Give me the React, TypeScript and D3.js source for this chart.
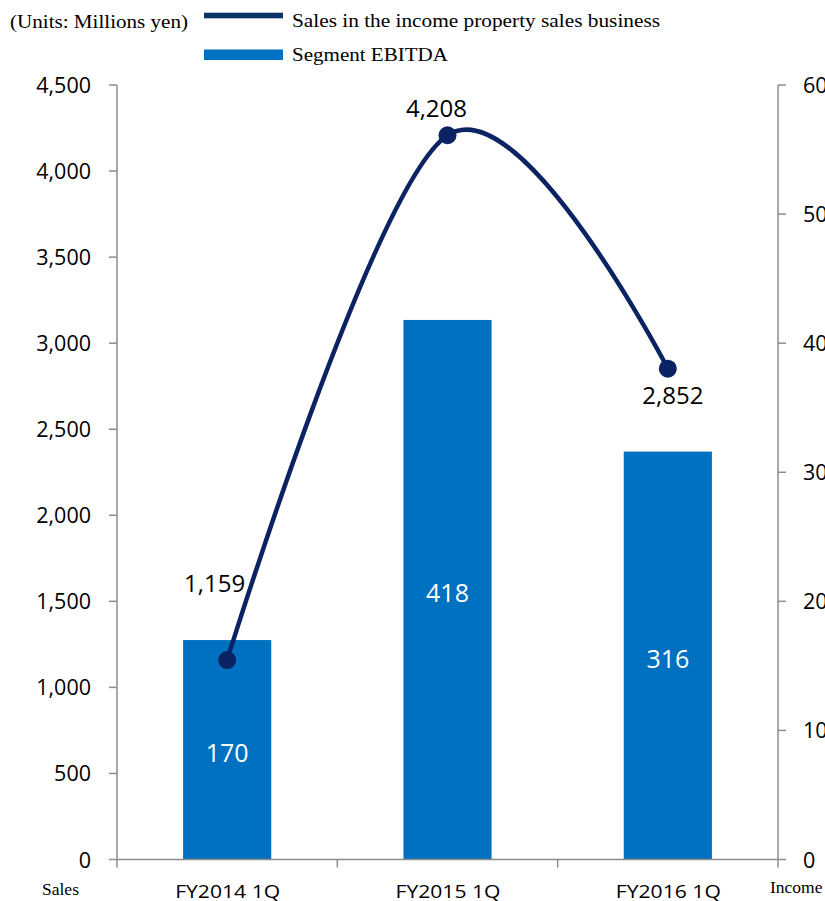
import React from "react";
import * as d3 from "d3";

const categories = ["FY2014 1Q", "FY2015 1Q", "FY2016 1Q"];
const salesValues = [1159, 4208, 2852];
const ebitdaValues = [170, 418, 316];
const leftTicks = [0, 500, 1000, 1500, 2000, 2500, 3000, 3500, 4000, 4500];
const rightTicks = [0, 100, 200, 300, 400, 500, 600];
const legendLabels = ["Sales in the income property sales business", "Segment EBITDA"];

const W = 825;
const H = 901;
const left = 117;
const right = 778;
const top = 85;
const bottom = 859.5;

const LINE_COLOR = "#0B2362";
const LEGEND_LINE = "#0B3264";
const BAR_COLOR = "#0070C0";
const AXIS_COLOR = "#8C8C8C";
const SANS = "'Open Sans', 'Noto Sans', sans-serif";
const SERIF = "'Liberation Serif', 'Times New Roman', serif";

export default function App() {
  const x = d3.scaleBand<string>().domain(categories).range([left, right]).paddingInner(0).paddingOuter(0);
  const yL = d3.scaleLinear().domain([0, 4500]).range([bottom, top]);
  const yR = d3.scaleLinear().domain([0, 600]).range([bottom, top]);
  const fmt = d3.format(",");
  const bw = x.bandwidth() * 0.4;
  const cx = (c: string) => (x(c) as number) + x.bandwidth() / 2;

  const pts: [number, number][] = categories.map((c, i) => [cx(c), yL(salesValues[i])]);
  const line = d3.line().curve(d3.curveCardinal.tension(0))(pts) || "";

  const salesLabelOffsets = [
    { dx: -12.5, dy: -68 },
    { dx: -11, dy: -18 },
    { dx: 5, dy: 35 },
  ];

  const boundaries = categories.map((c) => x(c) as number).concat([right]);

  return (
    <svg
      width={W}
      height={H}
      style={{ position: "absolute", left: 0, top: 0, background: "#fff", overflow: "hidden" }}
    >
      {/* legend */}
      <text x={10} y={27.5} fontFamily={SERIF} fontSize={19.5} fill="#000" textLength={178} lengthAdjust="spacingAndGlyphs">
        (Units: Millions yen)
      </text>
      <rect x={204} y={12.7} width={79} height={5.6} fill={LEGEND_LINE} />
      <text x={292} y={27} fontFamily={SERIF} fontSize={19.5} fill="#000" textLength={368} lengthAdjust="spacingAndGlyphs">
        {legendLabels[0]}
      </text>
      <rect x={204} y={49.5} width={79} height={10.5} fill={BAR_COLOR} />
      <text x={292} y={61} fontFamily={SERIF} fontSize={19.5} fill="#000" textLength={156} lengthAdjust="spacingAndGlyphs">
        {legendLabels[1]}
      </text>

      {/* bars */}
      {categories.map((c, i) => (
        <rect
          key={c}
          x={cx(c) - bw / 2}
          y={yR(ebitdaValues[i])}
          width={bw}
          height={bottom - yR(ebitdaValues[i])}
          fill={BAR_COLOR}
        />
      ))}
      {categories.map((c, i) => (
        <text
          key={"bl" + c}
          x={cx(c)}
          y={(yR(ebitdaValues[i]) + bottom) / 2 + 12}
          textAnchor="middle"
          fontFamily={SANS}
          fontSize={25}
          fill="#fff"
        >
          {fmt(ebitdaValues[i])}
        </text>
      ))}

      {/* left axis */}
      <line x1={left} x2={left} y1={top} y2={bottom} stroke={AXIS_COLOR} strokeWidth={1.5} />
      {leftTicks.map((t) => (
        <g key={"l" + t}>
          <line x1={left - 8} x2={left} y1={yL(t)} y2={yL(t)} stroke={AXIS_COLOR} strokeWidth={1.5} />
          <text x={91} y={yL(t) + 8} textAnchor="end" fontFamily={SANS} fontSize={21.5} fill="#000">
            {fmt(t)}
          </text>
        </g>
      ))}

      {/* right axis */}
      <line x1={right} x2={right} y1={top} y2={bottom} stroke={AXIS_COLOR} strokeWidth={1.5} />
      {rightTicks.map((t) => (
        <g key={"r" + t}>
          <line x1={right} x2={right + 8} y1={yR(t)} y2={yR(t)} stroke={AXIS_COLOR} strokeWidth={1.5} />
          <text x={803} y={yR(t) + 8} textAnchor="start" fontFamily={SANS} fontSize={21.5} fill="#000">
            {fmt(t)}
          </text>
        </g>
      ))}

      {/* x axis */}
      <line x1={left} x2={right} y1={bottom} y2={bottom} stroke={AXIS_COLOR} strokeWidth={1.5} />
      {boundaries.map((b, i) => (
        <line key={"xb" + i} x1={b} x2={b} y1={bottom} y2={bottom + 8} stroke={AXIS_COLOR} strokeWidth={1.5} />
      ))}
      {categories.map((c) => (
        <text
          key={"xl" + c}
          x={cx(c) - 52}
          y={898}
          fontFamily={SANS}
          fontSize={19}
          fill="#000"
          textLength={105}
          lengthAdjust="spacingAndGlyphs"
        >
          {c}
        </text>
      ))}
      <text x={42} y={895} fontFamily={SERIF} fontSize={17.5} fill="#000">
        Sales
      </text>
      <text x={770} y={893} fontFamily={SERIF} fontSize={17.5} fill="#000">
        Income
      </text>

      {/* line */}
      <path d={line} fill="none" stroke={LINE_COLOR} strokeWidth={4.5} />
      {pts.map((p, i) => (
        <circle key={"pt" + i} cx={p[0]} cy={p[1]} r={9} fill={LINE_COLOR} />
      ))}
      {pts.map((p, i) => (
        <text
          key={"sl" + i}
          x={p[0] + salesLabelOffsets[i].dx}
          y={p[1] + salesLabelOffsets[i].dy}
          textAnchor="middle"
          fontFamily={SANS}
          fontSize={24}
          fill="#000"
        >
          {fmt(salesValues[i])}
        </text>
      ))}
    </svg>
  );
}
